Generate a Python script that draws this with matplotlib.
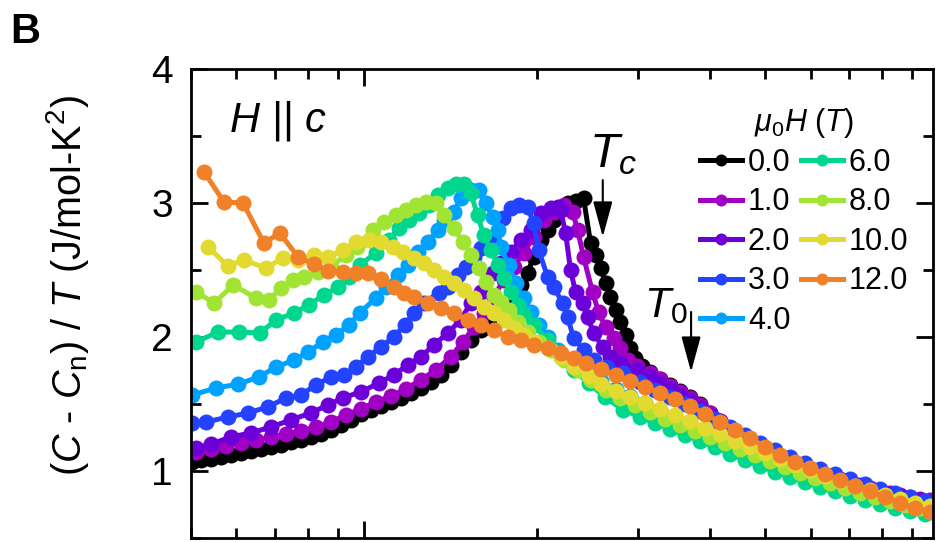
import matplotlib
matplotlib.use('Agg')
import matplotlib.pyplot as plt
from matplotlib.ticker import MultipleLocator, LogLocator, NullFormatter

plt.rcParams['font.family'] = ['Liberation Sans', 'DejaVu Sans']
plt.rcParams['mathtext.fontset'] = 'custom'
plt.rcParams['mathtext.rm'] = 'Liberation Sans'
plt.rcParams['mathtext.it'] = 'Liberation Sans:italic'
plt.rcParams['mathtext.bf'] = 'Liberation Sans:bold'

# ---------------- data ----------------
field_labels = ['0.0', '1.0', '2.0', '3.0', '4.0', '6.0', '8.0', '10.0', '12.0']
colors = ['#000000', '#a000c4', '#6c00d8', '#2343ff', '#00a2ff',
          '#00d68e', '#a2e434', '#e2da30', '#f08128']

T_0 = [0.502, 0.521, 0.542, 0.564, 0.587, 0.611, 0.636, 0.662, 0.689, 0.717, 0.746, 0.777,
       0.809, 0.842, 0.876, 0.912, 0.949, 0.988, 1.028, 1.070, 1.114, 1.160, 1.207, 1.256,
       1.308, 1.361, 1.417, 1.475, 1.535, 1.597, 1.663, 1.731, 1.801, 1.875, 1.928, 1.975,
       2.032, 2.090, 2.141, 2.201, 2.264, 2.338, 2.414, 2.482, 2.533, 2.584, 2.636, 2.689,
       2.744, 2.799, 2.856, 2.913, 2.972, 3.057, 3.156, 3.285, 3.419, 3.559, 3.704, 3.855,
       4.013, 4.177, 4.347, 4.525, 4.710, 4.902, 5.103, 5.311, 5.528, 5.754, 5.989, 6.233,
       6.488, 6.753, 7.029, 7.316, 7.615, 7.926, 8.250, 8.587, 8.938, 9.305, 9.685]
C_0 = [1.067, 1.082, 1.090, 1.104, 1.119, 1.134, 1.149, 1.164, 1.179, 1.194, 1.216, 1.231,
       1.254, 1.276, 1.306, 1.343, 1.381, 1.425, 1.455, 1.485, 1.515, 1.545, 1.582, 1.619,
       1.664, 1.716, 1.791, 1.888, 1.978, 2.052, 2.127, 2.201, 2.299, 2.388, 2.478, 2.597,
       2.724, 2.799, 2.873, 2.963, 3.000, 3.015, 3.037, 2.701, 2.612, 2.515, 2.403, 2.299,
       2.201, 2.112, 2.015, 1.918, 1.843, 1.784, 1.739, 1.687, 1.642, 1.597, 1.552, 1.500,
       1.433, 1.373, 1.313, 1.254, 1.209, 1.172, 1.134, 1.097, 1.067, 1.037, 1.007, 0.985,
       0.955, 0.933, 0.910, 0.888, 0.866, 0.843, 0.821, 0.806, 0.784, 0.769, 0.746]

T_1 = [0.510, 0.542, 0.575, 0.611, 0.649, 0.689, 0.731, 0.777, 0.825, 0.876, 0.930, 0.988,
       1.049, 1.114, 1.183, 1.256, 1.334, 1.417, 1.490, 1.554, 1.617, 1.683, 1.752, 1.823,
       1.898, 1.975, 2.057, 2.141, 2.228, 2.310, 2.357, 2.414, 2.502, 2.563, 2.636, 2.722,
       2.799, 2.879, 2.996, 3.156, 3.285, 3.419, 3.559, 3.704, 3.855, 4.013, 4.177, 4.347,
       4.525, 4.710, 4.902, 5.103, 5.311, 5.528, 5.754, 5.989, 6.233, 6.488, 6.753, 7.029,
       7.316, 7.615, 7.926, 8.250, 8.587, 8.938, 9.305, 9.685]
C_1 = [1.142, 1.164, 1.187, 1.209, 1.231, 1.254, 1.276, 1.299, 1.328, 1.366, 1.418, 1.463,
       1.515, 1.560, 1.612, 1.679, 1.754, 1.851, 1.963, 2.075, 2.179, 2.299, 2.425, 2.522,
       2.627, 2.746, 2.873, 2.933, 2.985, 2.933, 2.799, 2.597, 2.336, 2.187, 2.075, 1.993,
       1.918, 1.828, 1.784, 1.731, 1.687, 1.634, 1.590, 1.545, 1.493, 1.433, 1.373, 1.321,
       1.269, 1.216, 1.172, 1.134, 1.104, 1.075, 1.045, 1.015, 0.993, 0.963, 0.940, 0.918,
       0.896, 0.873, 0.858, 0.836, 0.821, 0.806, 0.791, 0.784]

T_2 = [0.510, 0.542, 0.587, 0.636, 0.689, 0.746, 0.809, 0.866, 0.919, 0.988, 1.064, 1.127,
       1.193, 1.256, 1.324, 1.400, 1.475, 1.535, 1.597, 1.676, 1.731, 1.801, 1.875, 1.952,
       2.032, 2.115, 2.175, 2.201, 2.246, 2.291, 2.338, 2.404, 2.453, 2.513, 2.605, 2.689,
       2.799, 2.996, 3.156, 3.285, 3.419, 3.559, 3.704, 3.855, 4.013, 4.177, 4.347, 4.525,
       4.710, 4.902, 5.103, 5.311, 5.528, 5.754, 5.989, 6.233, 6.488, 6.753, 7.029, 7.316,
       7.615, 7.926, 8.250, 8.587, 8.938, 9.305, 9.685]
C_2 = [1.172, 1.201, 1.254, 1.284, 1.328, 1.381, 1.433, 1.493, 1.545, 1.590, 1.657, 1.716,
       1.791, 1.851, 1.940, 2.030, 2.127, 2.254, 2.336, 2.478, 2.552, 2.634, 2.724, 2.799,
       2.925, 2.963, 2.970, 2.948, 2.776, 2.500, 2.336, 2.254, 2.149, 2.030, 1.925, 1.851,
       1.806, 1.754, 1.701, 1.657, 1.612, 1.567, 1.522, 1.470, 1.418, 1.358, 1.306, 1.254,
       1.209, 1.164, 1.127, 1.097, 1.067, 1.037, 1.007, 0.985, 0.955, 0.933, 0.910, 0.888,
       0.866, 0.851, 0.828, 0.813, 0.799, 0.784, 0.769]

T_3 = [0.502, 0.531, 0.581, 0.628, 0.681, 0.731, 0.777, 0.825, 0.876, 0.923, 0.968, 1.016,
       1.070, 1.127, 1.178, 1.222, 1.271, 1.350, 1.400, 1.458, 1.505, 1.554, 1.597, 1.676,
       1.745, 1.801, 1.860, 1.928, 1.975, 2.016, 2.090, 2.141, 2.219, 2.264, 2.319, 2.414,
       2.513, 2.657, 2.833, 3.032, 3.220, 3.419, 3.631, 3.855, 4.094, 4.347, 4.617, 4.902,
       5.206, 5.528, 5.870, 6.233, 6.620, 7.029, 7.464, 7.926, 8.417, 8.938, 9.493]
C_3 = [1.358, 1.366, 1.403, 1.433, 1.478, 1.545, 1.567, 1.642, 1.701, 1.716, 1.776, 1.851,
       1.925, 2.000, 2.090, 2.179, 2.254, 2.328, 2.373, 2.463, 2.522, 2.597, 2.664, 2.746,
       2.888, 2.963, 2.985, 2.970, 2.851, 2.649, 2.448, 2.373, 2.254, 2.149, 1.993, 1.903,
       1.828, 1.776, 1.731, 1.664, 1.604, 1.552, 1.500, 1.448, 1.388, 1.328, 1.269, 1.209,
       1.157, 1.104, 1.060, 1.015, 0.978, 0.940, 0.903, 0.866, 0.836, 0.806, 0.776]

T_4 = [0.502, 0.553, 0.605, 0.656, 0.703, 0.756, 0.799, 0.849, 0.894, 0.942, 0.984, 1.049,
       1.092, 1.146, 1.193, 1.241, 1.292, 1.345, 1.378, 1.434, 1.475, 1.535, 1.585, 1.630,
       1.676, 1.711, 1.731, 1.787, 1.838, 1.898, 1.952, 2.016, 2.090, 2.175, 2.291, 2.433,
       2.584, 2.744, 2.913, 3.094, 3.285, 3.489, 3.704, 3.933, 4.177, 4.435, 4.710, 5.002,
       5.311, 5.640, 5.989, 6.360, 6.753, 7.171, 7.615, 8.087, 8.587, 9.120, 9.685]
C_4 = [1.567, 1.619, 1.649, 1.701, 1.776, 1.828, 1.888, 1.963, 2.015, 2.090, 2.179, 2.291,
       2.373, 2.463, 2.537, 2.634, 2.709, 2.799, 2.873, 2.933, 3.037, 3.097, 3.097, 3.000,
       2.896, 2.799, 2.672, 2.537, 2.403, 2.291, 2.187, 2.090, 2.000, 1.903, 1.813, 1.739,
       1.672, 1.612, 1.560, 1.507, 1.455, 1.410, 1.358, 1.313, 1.261, 1.209, 1.157, 1.112,
       1.067, 1.022, 0.985, 0.948, 0.910, 0.873, 0.843, 0.813, 0.784, 0.754, 0.731]

T_6 = [0.510, 0.557, 0.606, 0.659, 0.703, 0.756, 0.802, 0.852, 0.901, 0.942, 0.984, 1.049,
       1.105, 1.151, 1.198, 1.246, 1.297, 1.345, 1.400, 1.446, 1.493, 1.535, 1.578, 1.617,
       1.663, 1.711, 1.752, 1.801, 1.853, 1.898, 1.975, 2.090, 2.201, 2.319, 2.463, 2.626,
       2.833, 3.032, 3.220, 3.419, 3.631, 3.855, 4.094, 4.347, 4.617, 4.902, 5.206, 5.528,
       5.870, 6.233, 6.620, 7.029, 7.464, 7.926, 8.417, 8.938, 9.493]
C_6 = [1.963, 2.037, 2.037, 2.030, 2.127, 2.179, 2.239, 2.313, 2.373, 2.448, 2.537, 2.627,
       2.724, 2.813, 2.873, 2.925, 2.985, 3.060, 3.112, 3.142, 3.142, 3.075, 2.910, 2.761,
       2.649, 2.537, 2.440, 2.336, 2.239, 2.164, 2.090, 1.978, 1.851, 1.754, 1.657, 1.552,
       1.455, 1.403, 1.358, 1.313, 1.269, 1.224, 1.179, 1.127, 1.082, 1.037, 0.993, 0.955,
       0.918, 0.881, 0.851, 0.813, 0.784, 0.754, 0.724, 0.701, 0.679]

T_8 = [0.510, 0.549, 0.592, 0.649, 0.684, 0.717, 0.752, 0.786, 0.832, 0.876, 0.930, 0.972,
       1.037, 1.083, 1.137, 1.183, 1.231, 1.282, 1.334, 1.378, 1.434, 1.487, 1.535, 1.585,
       1.630, 1.683, 1.731, 1.787, 1.853, 1.928, 2.016, 2.115, 2.228, 2.357, 2.482, 2.636,
       2.799, 2.972, 3.156, 3.352, 3.559, 3.779, 4.013, 4.261, 4.525, 4.805, 5.103, 5.418,
       5.754, 6.110, 6.488, 6.890, 7.316, 7.769, 8.250, 8.761, 9.305, 9.685]
C_8 = [2.336, 2.254, 2.388, 2.291, 2.276, 2.366, 2.425, 2.448, 2.485, 2.522, 2.612, 2.672,
       2.799, 2.858, 2.910, 2.948, 2.985, 3.007, 3.000, 2.910, 2.813, 2.709, 2.612, 2.515,
       2.410, 2.313, 2.261, 2.201, 2.112, 2.037, 1.963, 1.903, 1.828, 1.754, 1.679, 1.604,
       1.545, 1.493, 1.440, 1.388, 1.343, 1.299, 1.254, 1.209, 1.164, 1.119, 1.075, 1.030,
       0.985, 0.948, 0.910, 0.873, 0.836, 0.806, 0.776, 0.746, 0.724, 0.701]

T_10 = [0.536, 0.579, 0.618, 0.675, 0.724, 0.768, 0.818, 0.866, 0.919, 0.968, 1.020, 1.070,
        1.123, 1.169, 1.222, 1.271, 1.324, 1.378, 1.434, 1.493, 1.554, 1.617, 1.683, 1.752,
        1.823, 1.898, 1.975, 2.090, 2.201, 2.319, 2.463, 2.584, 2.744, 2.913, 3.094, 3.285,
        3.489, 3.704, 3.933, 4.177, 4.435, 4.710, 5.002, 5.311, 5.640, 5.989, 6.360, 6.753,
        7.171, 7.615, 8.087, 8.587, 9.120, 9.685]
C_10 = [2.672, 2.530, 2.575, 2.515, 2.590, 2.575, 2.612, 2.597, 2.649, 2.709, 2.724, 2.709,
        2.672, 2.634, 2.590, 2.552, 2.500, 2.448, 2.403, 2.351, 2.291, 2.224, 2.179, 2.127,
        2.067, 2.015, 1.963, 1.918, 1.851, 1.776, 1.709, 1.649, 1.597, 1.552, 1.507, 1.463,
        1.418, 1.373, 1.321, 1.276, 1.224, 1.179, 1.134, 1.090, 1.045, 1.007, 0.963, 0.925,
        0.888, 0.858, 0.821, 0.791, 0.761, 0.739]

T_12 = [0.527, 0.571, 0.616, 0.670, 0.714, 0.768, 0.818, 0.866, 0.919, 0.968, 1.016, 1.070,
        1.127, 1.174, 1.222, 1.292, 1.361, 1.434, 1.517, 1.597, 1.683, 1.780, 1.875, 1.975,
        2.090, 2.201, 2.319, 2.433, 2.584, 2.744, 2.913, 3.094, 3.285, 3.489, 3.704, 3.933,
        4.177, 4.435, 4.710, 5.002, 5.311, 5.640, 5.989, 6.360, 6.753, 7.171, 7.615, 8.087,
        8.587, 9.120, 9.685]
C_12 = [3.231, 3.007, 3.000, 2.701, 2.776, 2.597, 2.545, 2.493, 2.485, 2.478, 2.478, 2.433,
        2.373, 2.328, 2.299, 2.254, 2.216, 2.179, 2.127, 2.090, 2.052, 2.000, 1.978, 1.940,
        1.918, 1.881, 1.843, 1.806, 1.761, 1.716, 1.672, 1.627, 1.582, 1.537, 1.485, 1.425,
        1.366, 1.306, 1.246, 1.179, 1.119, 1.067, 1.022, 0.978, 0.933, 0.888, 0.851, 0.806,
        0.761, 0.724, 0.694]

temps = [T_0, T_1, T_2, T_3, T_4, T_6, T_8, T_10, T_12]
values = [C_0, C_1, C_2, C_3, C_4, C_6, C_8, C_10, C_12]

# ---------------- figure ----------------
fig = plt.figure(figsize=(9.37, 5.42), dpi=100)
ax = fig.add_axes([0.2038, 0.0074, 0.7919, 0.8653])

for T, C, col, lab in zip(temps, values, colors, field_labels):
    ax.plot(T, C, '-o', color=col, lw=3.6, ms=11.5, mew=0, label=lab)

ax.set_xscale('log')
ax.set_xlim(0.5, 9.8)
ax.set_ylim(0.5, 4)
ax.xaxis.set_major_locator(LogLocator(base=10))
ax.xaxis.set_minor_locator(LogLocator(base=10, subs=range(2, 10)))
ax.xaxis.set_minor_formatter(NullFormatter())
ax.yaxis.set_major_locator(MultipleLocator(1))
ax.yaxis.set_minor_locator(MultipleLocator(0.5))
ax.tick_params(which='both', direction='in', top=True, right=True, width=2)
ax.tick_params(which='major', length=12, labelsize=28, pad=13)
ax.tick_params(which='minor', length=7)
ax.tick_params(axis='x', which='both', labelbottom=False)
for s in ax.spines.values():
    s.set_linewidth(2)

fig.text(68 / 937, 1 - 286 / 542, r'($C$ - $C_{\rm n}$) / $T$ (J/mol-K$^{2}$)',
         rotation=90, ha='center', va='center', fontsize=28.5)
fig.text(10 / 937, 1 - 43 / 542, 'B', fontsize=30, fontweight='bold')

ax.text(0.0526, 0.866, 'H || c', transform=ax.transAxes, fontsize=30,
        fontstyle='italic', ha='left', va='baseline')
ax.text(0.537, 0.791, r'$T_c$', transform=ax.transAxes, fontsize=35,
        ha='left', va='baseline')
ax.text(0.610, 0.471, r'$T_0$', transform=ax.transAxes, fontsize=31,
        ha='left', va='baseline')

arrow_style = dict(arrowstyle='-|>,head_length=2.2,head_width=0.6', color='black',
                   lw=1.5, mutation_scale=10, shrinkA=0, shrinkB=0)
ax.annotate('', xy=(0.555, 0.642), xytext=(0.555, 0.763),
            xycoords='axes fraction', textcoords='axes fraction', arrowprops=arrow_style)
ax.annotate('', xy=(0.674, 0.354), xytext=(0.674, 0.482),
            xycoords='axes fraction', textcoords='axes fraction', arrowprops=arrow_style)

leg = ax.legend(ncol=2, loc='upper left', bbox_to_anchor=(0.686, 0.922),
                frameon=False, fontsize=22, title=r'$\mu_0H\ (T)$', title_fontsize=22,
                handlelength=1.37, handletextpad=0.2, columnspacing=0.33,
                labelspacing=0.31, borderpad=0, borderaxespad=0, markerscale=0.75)
leg._legend_box.sep = 6

fig.savefig('out.png', dpi=100)
